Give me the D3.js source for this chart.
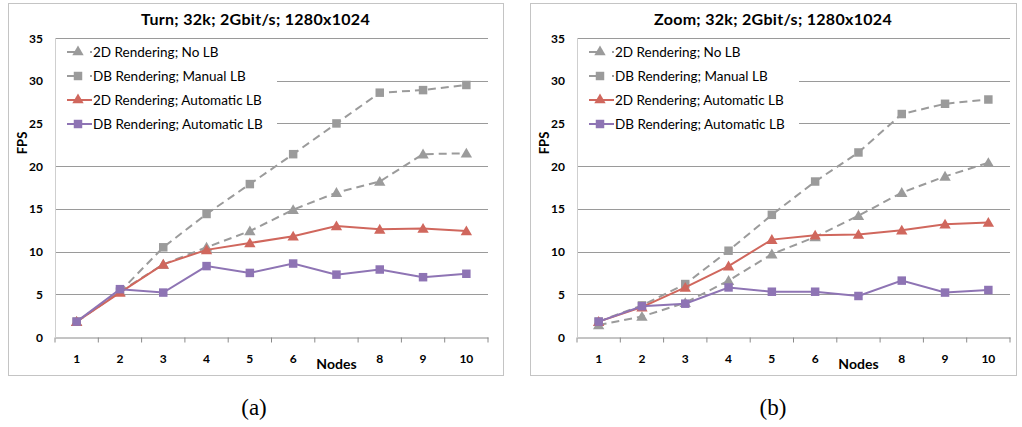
<!DOCTYPE html>
<html>
<head>
<meta charset="utf-8">
<script src="https://cdn.jsdelivr.net/npm/d3@7"></script>
<style>
  body { margin: 0; background: #fff; }
  svg { display: block; font-family: Lato, "Liberation Sans", sans-serif; }
</style>
</head>
<body>
<svg id="chart" width="1022" height="427"></svg>
<script>
const nodes = ['1', '2', '3', '4', '5', '6', '7', '8', '9', '10']
const yTicks = [0, 5, 10, 15, 20, 25, 30, 35]
const seriesNames = ['2D Rendering; No LB', 'DB Rendering; Manual LB', '2D Rendering; Automatic LB', 'DB Rendering; Automatic LB']

// (a) Turn
const turnNoLB = [1.8, 5.3, 8.5, 10.5, 12.4, 14.9, 16.9, 18.2, 21.4, 21.5]
const turnManualLB = [1.8, 5.3, 10.5, 14.4, 17.9, 21.4, 25.0, 28.6, 28.9, 29.5]
const turn2DAuto = [1.8, 5.2, 8.5, 10.2, 11.0, 11.8, 13.0, 12.6, 12.7, 12.4]
const turnDBAuto = [1.8, 5.6, 5.2, 8.3, 7.5, 8.6, 7.3, 7.9, 7.0, 7.4]

// (b) Zoom
const zoomNoLB = [1.4, 2.4, 4.0, 6.6, 9.7, 11.7, 14.2, 16.9, 18.8, 20.4]
const zoomManualLB = [1.8, 3.7, 6.2, 10.1, 14.3, 18.2, 21.6, 26.1, 27.3, 27.8]
const zoom2DAuto = [1.8, 3.5, 5.8, 8.3, 11.4, 11.9, 12.0, 12.5, 13.2, 13.4]
const zoomDBAuto = [1.8, 3.6, 3.9, 5.8, 5.3, 5.3, 4.8, 6.6, 5.2, 5.5]

const styles = [
  { color: '#9b9b9b', dash: '8,5', marker: d3.symbolTriangle },
  { color: '#9b9b9b', dash: '8,5', marker: d3.symbolSquare },
  { color: '#d0675d', dash: null, marker: d3.symbolTriangle },
  { color: '#8e74b4', dash: null, marker: d3.symbolSquare }
]

const svg = d3.select('#chart')

const markerSize = m => m === d3.symbolTriangle ? 56 : 72

const drawChart = (box, title, caption, series) => {
  const g = svg.append('g')
  g.append('rect')
    .attr('x', box.x0 + 0.5).attr('y', 3.5)
    .attr('width', box.x1 - box.x0).attr('height', 372)
    .attr('fill', '#fff').attr('stroke', '#c4c4c4')

  const x = d3.scaleBand().domain(nodes).range([box.ax0, box.ax1])
  const y = d3.scaleLinear().domain([0, 35]).range([337, 38])

  // grid
  g.append('g').selectAll('line')
    .data(yTicks.filter(t => t > 0))
    .join('line')
    .attr('x1', box.ax0).attr('x2', box.ax1)
    .attr('y1', d => Math.round(y(d)) + 0.5).attr('y2', d => Math.round(y(d)) + 0.5)
    .attr('stroke', '#9a9a9a')

  // y axis
  g.append('line')
    .attr('x1', box.ax0 + 0.5).attr('x2', box.ax0 + 0.5)
    .attr('y1', 38).attr('y2', 337)
    .attr('stroke', '#cfcfcf')
  g.append('g').selectAll('text')
    .data(yTicks)
    .join('text')
    .attr('x', box.ax0 - 12).attr('y', d => y(d) + 4.5)
    .attr('text-anchor', 'end')
    .attr('font-size', 12).attr('font-weight', 'bold')
    .text(d => d)

  // x axis
  const xAxis = g.append('g')
    .attr('transform', `translate(0,${Math.round(y(0)) + 0.5})`)
    .call(d3.axisBottom(x).tickSize(0).tickPadding(17).tickFormat(d => d === '7' ? '' : d))
  xAxis.select('.domain').attr('stroke', '#8a8a8a')
  xAxis.selectAll('text').attr('font-size', 12).attr('font-weight', 'bold')
    .attr('font-family', 'Lato, sans-serif').attr('fill', '#000')
  xAxis.selectAll('.sep')
    .data(nodes.concat(['end']))
    .join('line')
    .attr('class', 'sep')
    .attr('x1', (d, i) => box.ax0 + i * x.step()).attr('x2', (d, i) => box.ax0 + i * x.step())
    .attr('y1', 0).attr('y2', 5)
    .attr('stroke', '#8a8a8a')

  g.append('text')
    .attr('x', x('7') + x.bandwidth() / 2).attr('y', 369)
    .attr('text-anchor', 'middle')
    .attr('font-size', 14).attr('font-weight', 'bold')
    .text('Nodes')

  g.append('text')
    .attr('transform', `translate(${box.ax0 - 28},143) rotate(-90)`)
    .attr('text-anchor', 'middle')
    .attr('font-size', 13).attr('font-weight', 'bold')
    .text('FPS')

  g.append('text')
    .attr('x', (box.x0 + box.x1) / 2).attr('y', 25)
    .attr('text-anchor', 'middle')
    .attr('font-size', 16).attr('font-weight', 'bold')
    .attr('letter-spacing', 0.3)
    .text(title)

  // legend background hides grid behind it
  g.append('rect')
    .attr('x', box.ax0 + 1).attr('y', 41)
    .attr('width', 221).attr('height', 94)
    .attr('fill', '#fff')

  // series
  const line = d3.line()
    .x((d, i) => x(nodes[i]) + x.bandwidth() / 2)
    .y(d => y(d))
  series.forEach((values, si) => {
    const st = styles[si]
    g.append('path')
      .datum(values)
      .attr('d', line)
      .attr('fill', 'none')
      .attr('stroke', st.color)
      .attr('stroke-width', 2)
      .attr('stroke-dasharray', st.dash)
    g.append('g').selectAll('path')
      .data(values)
      .join('path')
      .attr('transform', (d, i) => `translate(${x(nodes[i]) + x.bandwidth() / 2},${y(d) + (st.marker === d3.symbolTriangle ? 1 : 0)})`)
      .attr('d', d3.symbol().type(st.marker).size(markerSize(st.marker)))
      .attr('fill', st.color)
  })

  // legend
  const legend = g.append('g')
    .selectAll('g')
    .data(seriesNames)
    .join('g')
    .attr('transform', (d, i) => `translate(${box.ax0 + 12},${52 + i * 24})`)
  legend.append('line')
    .attr('x1', 0).attr('x2', (d, i) => styles[i].dash ? 12 : 25)
    .attr('stroke', (d, i) => styles[i].color)
    .attr('stroke-width', 2)
  legend.filter((d, i) => styles[i].dash)
    .append('line')
    .attr('x1', 23).attr('x2', 25)
    .attr('stroke', styles[0].color)
    .attr('stroke-width', 2)
  legend.append('path')
    .attr('transform', 'translate(11,0)')
    .attr('d', (d, i) => d3.symbol().type(styles[i].marker).size(markerSize(styles[i].marker))())
    .attr('fill', (d, i) => styles[i].color)
  legend.append('text')
    .attr('x', 26).attr('y', 5)
    .attr('font-size', 13.5)
    .text(d => d)

  svg.append('text')
    .attr('x', caption.x).attr('y', 415)
    .attr('text-anchor', 'middle')
    .attr('font-family', '"Liberation Serif", "DejaVu Serif", serif')
    .attr('font-size', 23)
    .text(caption.text)
}

drawChart({ x0: 8, x1: 503, ax0: 55, ax1: 488 }, 'Turn; 32k; 2Gbit/s; 1280x1024', { x: 254, text: '(a)' },
  [turnNoLB, turnManualLB, turn2DAuto, turnDBAuto])
drawChart({ x0: 530, x1: 1016, ax0: 577, ax1: 1010 }, 'Zoom; 32k; 2Gbit/s; 1280x1024', { x: 773, text: '(b)' },
  [zoomNoLB, zoomManualLB, zoom2DAuto, zoomDBAuto])
</script>
</body>
</html>
